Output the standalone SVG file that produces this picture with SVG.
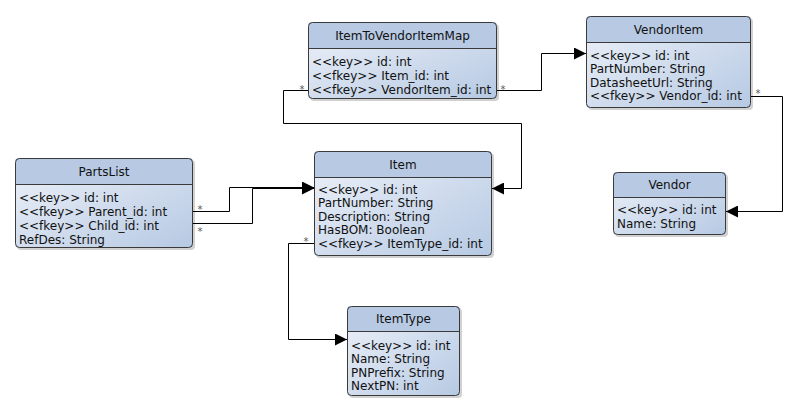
<svg xmlns="http://www.w3.org/2000/svg" width="798" height="412" viewBox="0 0 798 412">
  <defs>
    <linearGradient id="bodyFill" x1="0" y1="0" x2="1" y2="1">
      <stop offset="0" stop-color="#eef2f9"/>
      <stop offset="1" stop-color="#b6c9e3"/>
    </linearGradient>
    <marker id="arrow" viewBox="0 0 12 12" refX="12" refY="6" markerWidth="12" markerHeight="12" markerUnits="userSpaceOnUse" orient="auto">
      <path d="M0,0 L12,6 L0,12 Z" fill="#000"/>
    </marker>
    <clipPath id="clipMap"><rect x="308" y="22" width="189" height="77" rx="4"/></clipPath>
    <clipPath id="clipVendorItem"><rect x="586" y="16" width="165" height="92" rx="4"/></clipPath>
    <clipPath id="clipPartsList"><rect x="15" y="158" width="178" height="90" rx="4"/></clipPath>
    <clipPath id="clipItem"><rect x="314" y="151" width="178" height="105" rx="4"/></clipPath>
    <clipPath id="clipVendor"><rect x="613" y="172" width="113" height="63" rx="4"/></clipPath>
    <clipPath id="clipItemType"><rect x="347" y="306" width="113" height="90" rx="4"/></clipPath>
  </defs>
  <style>
    .shadow { fill: #000; opacity: 0.18; }
    .body { fill: url(#bodyFill); }
    .head { fill: #b7c9e3; }
    .frame { fill: none; stroke: #3a3a3a; stroke-width: 1; }
    .sep { stroke: #3a3a3a; stroke-width: 1; }
    .title { font-family: "DejaVu Sans", sans-serif; font-size: 12px; fill: #111; text-anchor: middle; }
    .attr { font-family: "DejaVu Sans", sans-serif; font-size: 12px; fill: #111; }
    .edge { fill: none; stroke: #000; stroke-width: 1; }
    .mult { font-family: "DejaVu Sans", sans-serif; font-size: 10px; fill: #555; text-anchor: middle; }
  </style>

  <rect width="798" height="412" fill="#fff"/>

  <!-- connectors -->
  <g id="connectors">
    <path class="edge" d="M497,90.5 H541.5 V53.5 H586" marker-end="url(#arrow)"/>
    <path class="edge" d="M308,90.5 H283.5 V123.5 H521.5 V188.5 H492" marker-end="url(#arrow)"/>
    <path class="edge" d="M193,211.5 H229.5 V187.5 H314" marker-end="url(#arrow)"/>
    <path class="edge" d="M193,223.5 H252.5 V188.5 H314" marker-end="url(#arrow)"/>
    <path class="edge" d="M751,96.5 H782.5 V211.5 H726" marker-end="url(#arrow)"/>
    <path class="edge" d="M314,243.5 H288.5 V339.5 H347" marker-end="url(#arrow)"/>
    <text class="mult" x="302" y="93">*</text>
    <text class="mult" x="503" y="93">*</text>
    <text class="mult" x="758" y="97">*</text>
    <text class="mult" x="200" y="213">*</text>
    <text class="mult" x="200" y="235">*</text>
    <text class="mult" x="306" y="245">*</text>
  </g>

  <!-- ItemToVendorItemMap -->
  <g id="ItemToVendorItemMap">
    <rect class="shadow" x="310" y="24" width="189" height="77" rx="4"/>
    <g clip-path="url(#clipMap)">
      <rect class="body" x="308" y="22" width="189" height="77"/>
      <rect class="head" x="308" y="22" width="189" height="26"/>
    </g>
    <line class="sep" x1="308" y1="48.5" x2="497" y2="48.5"/>
    <rect class="frame" x="308.5" y="22.5" width="188" height="76" rx="4"/>
    <text class="title" x="402.5" y="39.5">ItemToVendorItemMap</text>
    <text class="attr" x="312" y="66">&lt;&lt;key&gt;&gt; id: int</text>
    <text class="attr" x="312" y="80">&lt;&lt;fkey&gt;&gt; Item_id: int</text>
    <text class="attr" x="312" y="94">&lt;&lt;fkey&gt;&gt; VendorItem_id: int</text>
  </g>

  <!-- VendorItem -->
  <g id="VendorItem">
    <rect class="shadow" x="588" y="18" width="165" height="92" rx="4"/>
    <g clip-path="url(#clipVendorItem)">
      <rect class="body" x="586" y="16" width="165" height="92"/>
      <rect class="head" x="586" y="16" width="165" height="26"/>
    </g>
    <line class="sep" x1="586" y1="42.5" x2="751" y2="42.5"/>
    <rect class="frame" x="586.5" y="16.5" width="164" height="91" rx="4"/>
    <text class="title" x="668.5" y="33.5">VendorItem</text>
    <text class="attr" x="590" y="59.5">&lt;&lt;key&gt;&gt; id: int</text>
    <text class="attr" x="590" y="73.1">PartNumber: String</text>
    <text class="attr" x="590" y="86.7">DatasheetUrl: String</text>
    <text class="attr" x="590" y="100.3">&lt;&lt;fkey&gt;&gt; Vendor_id: int</text>
  </g>

  <!-- PartsList -->
  <g id="PartsList">
    <rect class="shadow" x="17" y="160" width="178" height="90" rx="4"/>
    <g clip-path="url(#clipPartsList)">
      <rect class="body" x="15" y="158" width="178" height="90"/>
      <rect class="head" x="15" y="158" width="178" height="26"/>
    </g>
    <line class="sep" x1="15" y1="184.5" x2="193" y2="184.5"/>
    <rect class="frame" x="15.5" y="158.5" width="177" height="89" rx="4"/>
    <text class="title" x="104" y="175.5">PartsList</text>
    <text class="attr" x="19" y="201.5">&lt;&lt;key&gt;&gt; id: int</text>
    <text class="attr" x="19" y="215.5">&lt;&lt;fkey&gt;&gt; Parent_id: int</text>
    <text class="attr" x="19" y="229.5">&lt;&lt;fkey&gt;&gt; Child_id: int</text>
    <text class="attr" x="19" y="243.5">RefDes: String</text>
  </g>

  <!-- Item -->
  <g id="Item">
    <rect class="shadow" x="316" y="153" width="178" height="105" rx="4"/>
    <g clip-path="url(#clipItem)">
      <rect class="body" x="314" y="151" width="178" height="105"/>
      <rect class="head" x="314" y="151" width="178" height="26"/>
    </g>
    <line class="sep" x1="314" y1="177.5" x2="492" y2="177.5"/>
    <rect class="frame" x="314.5" y="151.5" width="177" height="104" rx="4"/>
    <text class="title" x="403" y="168.5">Item</text>
    <text class="attr" x="318" y="193.5">&lt;&lt;key&gt;&gt; id: int</text>
    <text class="attr" x="318" y="207.1">PartNumber: String</text>
    <text class="attr" x="318" y="220.7">Description: String</text>
    <text class="attr" x="318" y="234.3">HasBOM: Boolean</text>
    <text class="attr" x="318" y="247.9">&lt;&lt;fkey&gt;&gt; ItemType_id: int</text>
  </g>

  <!-- Vendor -->
  <g id="Vendor">
    <rect class="shadow" x="615" y="174" width="113" height="63" rx="4"/>
    <g clip-path="url(#clipVendor)">
      <rect class="body" x="613" y="172" width="113" height="63"/>
      <rect class="head" x="613" y="172" width="113" height="25"/>
    </g>
    <line class="sep" x1="613" y1="197.5" x2="726" y2="197.5"/>
    <rect class="frame" x="613.5" y="172.5" width="112" height="62" rx="4"/>
    <text class="title" x="669.5" y="189">Vendor</text>
    <text class="attr" x="617" y="213.8">&lt;&lt;key&gt;&gt; id: int</text>
    <text class="attr" x="617" y="227.5">Name: String</text>
  </g>

  <!-- ItemType -->
  <g id="ItemType">
    <rect class="shadow" x="349" y="308" width="113" height="90" rx="4"/>
    <g clip-path="url(#clipItemType)">
      <rect class="body" x="347" y="306" width="113" height="90"/>
      <rect class="head" x="347" y="306" width="113" height="25"/>
    </g>
    <line class="sep" x1="347" y1="331.5" x2="460" y2="331.5"/>
    <rect class="frame" x="347.5" y="306.5" width="112" height="89" rx="4"/>
    <text class="title" x="403.5" y="323">ItemType</text>
    <text class="attr" x="351" y="349.5">&lt;&lt;key&gt;&gt; id: int</text>
    <text class="attr" x="351" y="363.1">Name: String</text>
    <text class="attr" x="351" y="376.7">PNPrefix: String</text>
    <text class="attr" x="351" y="390.3">NextPN: int</text>
  </g>
</svg>
